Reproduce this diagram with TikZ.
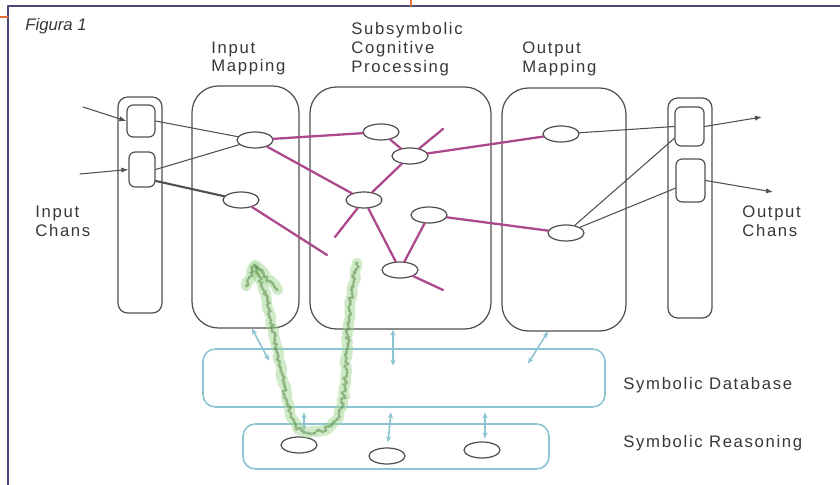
\documentclass[tikz,border=0pt]{standalone}
\usepackage{fontspec}
\setmainfont{Liberation Sans}
\usetikzlibrary{shapes.geometric,arrows.meta,calc,decorations.pathmorphing}
\definecolor{marco}{RGB}{74,74,122}
\definecolor{naranja}{RGB}{230,110,60}
\definecolor{trazo}{RGB}{80,80,80}
\definecolor{texto}{RGB}{55,55,55}
\definecolor{morado}{RGB}{172,72,140}
\definecolor{celeste}{RGB}{140,196,210}
\definecolor{verde}{RGB}{120,195,95}
\begin{document}
\begin{tikzpicture}[line cap=round, line join=round,
    rotulo/.style={inner sep=0pt, anchor=west, align=left, text=texto,
      font=\fontsize{9.5}{10.8}\selectfont\addfontfeature{LetterSpace=10}},
    canal/.style={draw=trazo, line width=0.7pt, rounded corners=5.5pt, inner sep=0pt},
    celda/.style={draw=trazo, line width=0.7pt, rounded corners=3.5pt, inner sep=0pt},
    etapa/.style={draw=trazo, line width=0.7pt, rounded corners=15pt, inner sep=0pt},
    simbolo/.style={draw=celeste, line width=0.9pt, rounded corners=7pt, inner sep=0pt},
    unidad/.style={ellipse, draw=trazo, line width=0.7pt, fill=white,
      minimum width=0.72cm, minimum height=0.32cm, inner sep=0pt},
    enlace/.style={trazo, line width=0.6pt},
    flecha/.style={enlace, -{Latex[length=4pt,width=3pt]}},
    sinapsis/.style={morado, line width=1.3pt},
    acceso/.style={celeste, line width=0.9pt,
      {Stealth[length=3.5pt,width=3pt]}-{Stealth[length=3.5pt,width=3pt]}},
    fondo/.style={draw=verde!70, opacity=0.5, line width=6pt,
      decorate, decoration={random steps, segment length=2pt, amplitude=0.8pt}},
    garabato/.style={draw=verde!65!black, opacity=0.5, line width=1.6pt, dash pattern=on 1pt off 1pt,
      decorate, decoration={random steps, segment length=1.5pt, amplitude=1.2pt}}]
  \pgfmathsetseed{7}
  \useasboundingbox (0,0) rectangle (16.8,9.7);
  % el marco
  \draw[marco, line width=1.1pt] (0.16,0) -- (0.16,9.58) -- (16.8,9.58);
  \draw[naranja, line width=0.8pt] (0,9.36) -- (0.16,9.36);
  \draw[naranja, line width=0.8pt] (8.22,9.58) -- (8.22,9.7);
  \node[inner sep=0pt, anchor=west, text=texto, font=\fontsize{9.5}{10.8}\selectfont\itshape] (fig) at (0.50,9.18) {Figura 1};
  % los rotulos
  \node[rotulo] (tinmap) at (4.22,8.53) {Input\\Mapping};
  \node[rotulo] (tsub) at (7.02,8.72) {Subsymbolic\\Cognitive\\Processing};
  \node[rotulo] (toutmap) at (10.44,8.53) {Output\\Mapping};
  \node[rotulo] (tinch) at (0.70,5.27) {Input\\Chans};
  \node[rotulo] (toutch) at (14.84,5.27) {Output\\Chans};
  \node[rotulo] (tdb) at (12.46,2.00) {Symbolic Database};
  \node[rotulo] (treason) at (12.46,0.84) {Symbolic Reasoning};
  % las cajas
  \node[canal, minimum width=0.88cm, minimum height=4.32cm] (inch) at (2.80,5.60) {};
  \node[celda, minimum width=0.56cm, minimum height=0.64cm] (in1) at (2.82,7.28) {};
  \node[celda, minimum width=0.52cm, minimum height=0.70cm] (in2) at (2.84,6.31) {};
  \node[etapa, minimum width=2.14cm, minimum height=4.84cm] (inmap) at (4.91,5.56) {};
  \node[etapa, minimum width=3.62cm, minimum height=4.84cm] (subsym) at (8.01,5.54) {};
  \node[etapa, minimum width=2.48cm, minimum height=4.86cm] (outmap) at (11.28,5.51) {};
  \node[canal, minimum width=0.88cm, minimum height=4.40cm] (outch) at (13.80,5.54) {};
  \node[celda, minimum width=0.58cm, minimum height=0.78cm] (out1) at (13.79,7.17) {};
  \node[celda, minimum width=0.58cm, minimum height=0.86cm] (out2) at (13.81,6.09) {};
  \node[simbolo, minimum width=8.04cm, minimum height=1.16cm] (db) at (8.08,2.14) {};
  \node[simbolo, minimum width=6.12cm, minimum height=0.90cm] (reason) at (7.92,0.77) {};
  % las unidades
  \node[unidad] (e1) at (5.10,6.90) {};
  \node[unidad] (e2) at (4.82,5.70) {};
  \node[unidad] (n1) at (7.62,7.06) {};
  \node[unidad] (n2) at (8.20,6.58) {};
  \node[unidad] (n3) at (7.28,5.70) {};
  \node[unidad] (n4) at (8.58,5.40) {};
  \node[unidad] (n5) at (8.00,4.30) {};
  \node[unidad] (o1) at (11.22,7.02) {};
  \node[unidad] (o2) at (11.32,5.04) {};
  \node[unidad] (r1) at (5.98,0.80) {};
  \node[unidad] (r2) at (7.74,0.58) {};
  \node[unidad] (r3) at (9.64,0.70) {};
  \coordinate (ia1) at (1.66,7.56);
  \coordinate (ia2) at (1.60,6.22);
  \coordinate (oa1) at (15.24,7.36);
  \coordinate (oa2) at (15.46,5.86);
  \coordinate (d1) at (6.54,4.60);
  \coordinate (d2) at (8.86,7.12);
  \coordinate (d3) at (6.70,4.96);
  \coordinate (d4) at (8.86,3.90);
  % entradas y salidas
  \draw[flecha] (ia1) -- (in1.west);
  \draw[flecha] (ia2) -- (in2.west);
  \draw[enlace] (in1.east) -- (e1);
  \draw[enlace] (in2.east) -- (e1);
  \draw[enlace, line width=1.2pt] (in2.-40) -- (e2);
  \draw[enlace] (o1) -- (out1.west);
  \draw[enlace] (o2) -- (out1.218);
  \draw[enlace] (o2) -- (out2.207);
  \draw[flecha] (out1.east) -- (oa1);
  \draw[flecha] (out2.east) -- (oa2);
  % la red subsimbolica
  \draw[sinapsis] (e1) -- (n1);
  \draw[sinapsis] (e1) -- (n3);
  \draw[sinapsis] (e2) -- (d1);
  \draw[sinapsis] (n1) -- (n2);
  \draw[sinapsis] (n2) -- (n3);
  \draw[sinapsis] (n2) -- (d2);
  \draw[sinapsis] (n2) -- (o1);
  \draw[sinapsis] (n3) -- (d3);
  \draw[sinapsis] (n3) -- (n5);
  \draw[sinapsis] (n4) -- (n5);
  \draw[sinapsis] (n4) -- (o2);
  \draw[sinapsis] (n5) -- (d4);
  % accesos simbolicos
  \draw[acceso] ($(inmap.south)+(0.13,0)$) -- ++(0.34,-0.64);
  \draw[acceso] ($(subsym.south)+(-0.15,0)$) -- ++(0,-0.72);
  \draw[acceso] ($(outmap.south)+(-0.32,0)$) -- ++(-0.40,-0.64);
  \draw[acceso] ($(r1.north)+(0.10,0.10)$) -- ++(0,0.38);
  \draw[acceso] ($(r2.north)+(0.02,0.10)$) -- ++(0.06,0.60);
  \draw[acceso] ($(r3.north)+(0.06,0.06)$) -- ++(0,0.52);
  % el garabato verde
  \draw[fondo] plot coordinates {(7.14,4.44) (7.06,4.00) (7.00,3.60) (6.96,3.20) (6.94,2.80)
    (6.92,2.40) (6.90,2.00) (6.86,1.65) (6.78,1.38) (6.62,1.18) (6.40,1.08) (6.16,1.04)
    (5.96,1.12) (5.82,1.36) (5.74,1.70) (5.66,2.10) (5.58,2.50) (5.50,2.90) (5.42,3.30)
    (5.34,3.70) (5.24,4.04) (5.10,4.36)};
  \draw[fondo] (4.92,3.98) -- (5.10,4.40) -- (5.56,3.90);
  \draw[garabato] plot coordinates {(7.14,4.44) (7.06,4.00) (7.00,3.60) (6.96,3.20) (6.94,2.80)
    (6.92,2.40) (6.90,2.00) (6.86,1.65) (6.78,1.38) (6.62,1.18) (6.40,1.08) (6.16,1.04)
    (5.96,1.12) (5.82,1.36) (5.74,1.70) (5.66,2.10) (5.58,2.50) (5.50,2.90) (5.42,3.30)
    (5.34,3.70) (5.24,4.04) (5.10,4.36)};
  \draw[garabato] (4.92,3.98) -- (5.10,4.40) -- (5.56,3.90);
\end{tikzpicture}
\end{document}
